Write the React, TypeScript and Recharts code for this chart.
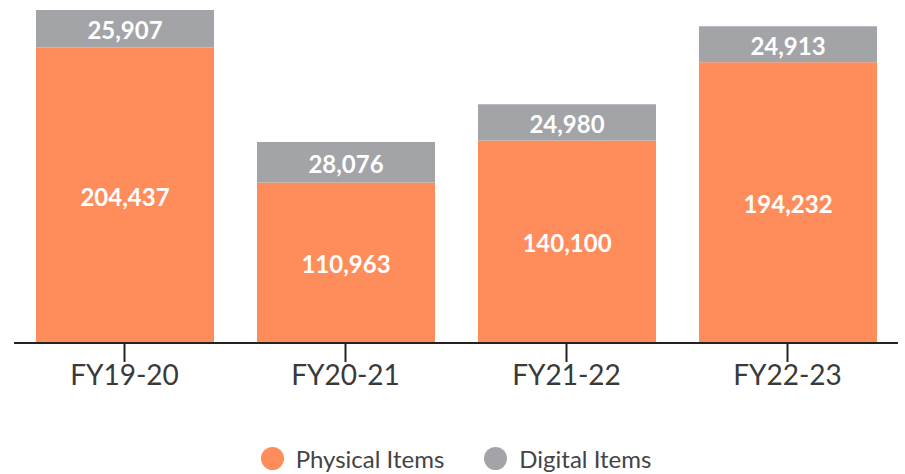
import { BarChart, Bar, XAxis, YAxis, Legend, LabelList } from "recharts";

const years = ["FY19-20", "FY20-21", "FY21-22", "FY22-23"];
const physicalItems = [204437, 110963, 140100, 194232];
const digitalItems = [25907, 28076, 24980, 24913];

const ORANGE = "#ff8d5c";
const GREY = "#a2a4a8";

const data = years.map((year, i) => ({
  year,
  physical: physicalItems[i],
  digital: digitalItems[i],
}));

const fmt = (v: any) => Number(v).toLocaleString("en-US");

const legendItems = [
  { label: "Physical Items", color: ORANGE },
  { label: "Digital Items", color: GREY },
];

function ChartLegend() {
  return (
    <div
      style={{
        display: "flex",
        justifyContent: "center",
        alignItems: "center",
        gap: 40,
        height: 40,
        paddingTop: 8,
        boxSizing: "border-box",
        fontFamily: "Lato",
        fontSize: 24,
        color: "#444",
      }}
    >
      {legendItems.map((item) => (
        <div key={item.label} style={{ display: "flex", alignItems: "center" }}>
          <span
            style={{
              width: 23,
              height: 23,
              borderRadius: "50%",
              background: item.color,
              display: "inline-block",
              marginRight: 12,
            }}
          />
          {item.label}
        </div>
      ))}
    </div>
  );
}

const labelProps = {
  position: "center" as const,
  formatter: fmt,
  fill: "#fff",
  fontSize: 24,
  fontWeight: 700,
  fontFamily: "Lato",
  dy: 2,
};

export default function App() {
  return (
    <div style={{ position: "absolute", left: 0, top: 0, background: "#fff" }}>
      <BarChart
        width={905}
        height={474}
        data={data}
        margin={{ top: 10, right: 7, bottom: 0, left: 14 }}
        barSize={178}
      >
        <XAxis
          dataKey="year"
          height={91}
          axisLine={{ stroke: "#222", strokeWidth: 2 }}
          tickLine={{ stroke: "#222", strokeWidth: 2 }}
          tickSize={19}
          tick={{ fill: "#3a3a3a", fontSize: 28, fontFamily: "Lato" }}
          tickMargin={3}
        />
        <YAxis hide domain={[0, "dataMax"]} />
        <Legend
          verticalAlign="bottom"
          height={40}
          content={() => <ChartLegend />}
        />
        <Bar dataKey="physical" stackId="a" fill={ORANGE} isAnimationActive={false}>
          <LabelList dataKey="physical" {...labelProps} />
        </Bar>
        <Bar dataKey="digital" stackId="a" fill={GREY} isAnimationActive={false}>
          <LabelList dataKey="digital" {...labelProps} />
        </Bar>
      </BarChart>
    </div>
  );
}
